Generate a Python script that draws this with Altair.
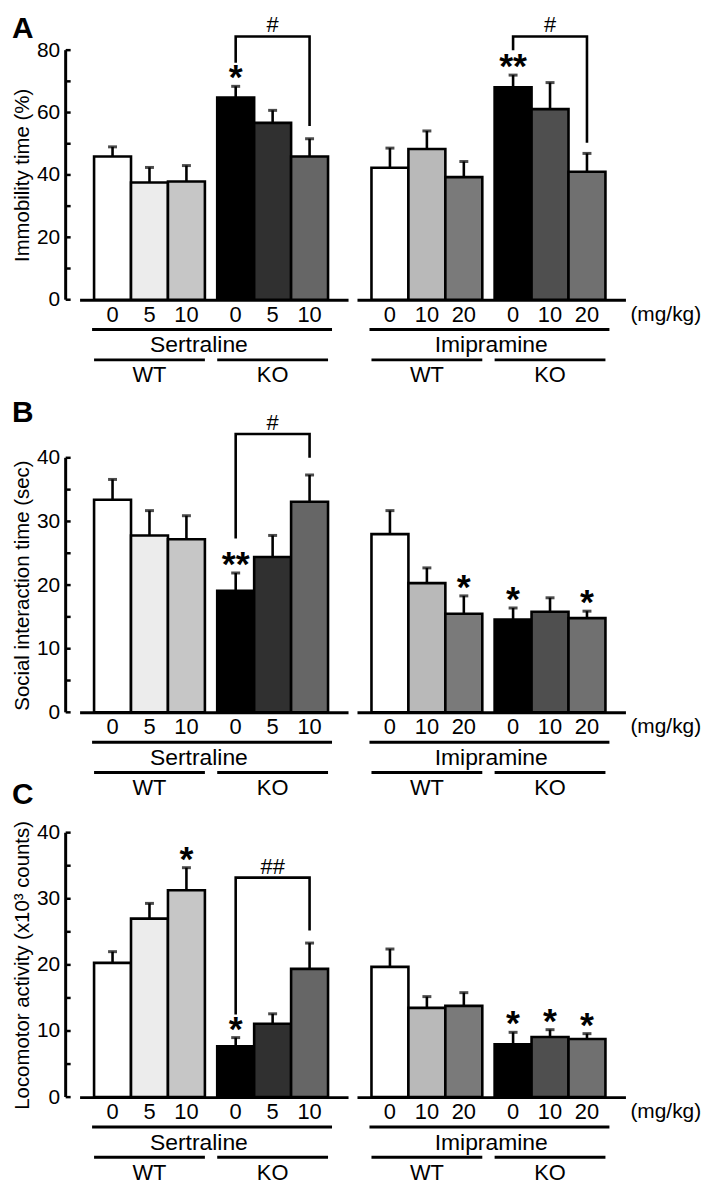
import altair as alt
import pandas as pd

FONT = "Liberation Sans"
W = 270
PI, PO, ALIGN = 0.1, 0.14, 0.42
LW = 2.6

groups = ["WT", "KO"]
sert_doses = ["0", "5", "10"]
imi_doses = ["0", "10", "20"]
unit_label = "(mg/kg)"

# approximations of the hatch / dot textures as grey levels
sert_fill = ["#ffffff", "#ececec", "#c6c6c6", "#000000", "#303030", "#666666"]
imi_fill = ["#ffffff", "#b9b9b9", "#7a7a7a", "#000000", "#4f4f4f", "#707070"]

# ---- Panel A : immobility time (%)
A_title = "Immobility time (%)"
A_sert_mean = [45.9, 37.6, 37.9, 64.8, 56.7, 45.9]
A_sert_sem = [3.1, 4.8, 5.1, 3.6, 4.0, 5.7]
A_sert_star = ["", "", "", "*", "", ""]
A_sert_bracket = ["#", 84.4, 76.0, 55.7]
A_imi_mean = [42.3, 48.3, 39.3, 68.1, 61.1, 41.0]
A_imi_sem = [6.3, 5.8, 5.0, 3.9, 8.5, 5.9]
A_imi_star = ["", "", "", "**", "", ""]
A_imi_bracket = ["#", 84.4, 80.0, 50.3]

# ---- Panel B : social interaction time (sec)
B_title = "Social interaction time (sec)"
B_sert_mean = [33.4, 27.8, 27.2, 19.1, 24.4, 33.1]
B_sert_sem = [3.2, 3.9, 3.7, 2.8, 3.4, 4.2]
B_sert_star = ["", "", "", "**", "", ""]
B_sert_bracket = ["#", 43.75, 27.3, 40.0]
B_imi_mean = [28.0, 20.3, 15.5, 14.6, 15.8, 14.8]
B_imi_sem = [3.7, 2.4, 2.8, 1.8, 2.2, 1.1]
B_imi_star = ["", "", "*", "*", "", "*"]

# ---- Panel C : locomotor activity (x10^3 counts)
C_title = "Locomotor activity (x10³ counts)"
C_sert_mean = [20.3, 27.0, 31.3, 7.7, 11.1, 19.4]
C_sert_sem = [1.7, 2.3, 3.4, 1.3, 1.5, 3.9]
C_sert_star = ["", "", "*", "*", "", ""]
C_sert_bracket = ["##", 33.2, 12.5, 25.2]
C_imi_mean = [19.7, 13.5, 13.8, 8.0, 9.1, 8.8]
C_imi_sem = [2.7, 1.7, 2.0, 1.8, 1.1, 0.8]
C_imi_star = ["", "", "", "*", "*", "*"]


def one(d):
    return alt.Chart(pd.DataFrame(d))


def panel(drug, doses, means, sems, fills, stars, bracket, h, ymax, tick_step,
          label_step, ytitle=None, letter=None, letter_y=0, unit=False,
          drug_dx=0, extra=0):
    H = h + extra
    top_val = ymax * H / h
    df = pd.DataFrame({
        "group": [g for g in groups for _ in doses],
        "dose": list(doses) * 2,
        "mean": means, "sem": sems, "fill": fills, "star": stars,
    })
    df["top"] = df["mean"] + df["sem"]

    x = alt.X("group:N", sort=groups, title=None,
              scale=alt.Scale(domain=groups, paddingInner=PI, paddingOuter=PO,
                              align=ALIGN),
              axis=alt.Axis(labels=False, ticks=False, domainWidth=3,
                            domainColor="black", title=None))
    xo = alt.XOffset("dose:N", sort=list(doses),
                     scale=alt.Scale(domain=list(doses), paddingInner=0,
                                     paddingOuter=0))
    tick_vals = list(range(0, ymax + 1, tick_step))
    if ytitle:
        yaxis = alt.Axis(values=tick_vals,
                         labelExpr=f"datum.value % {label_step} == 0 ? datum.label : ''",
                         title=ytitle, titleY=H - h / 2, offset=14, ticks=False,
                         tickSize=0, domain=False, labelPadding=6,
                         titlePadding=4)
    else:
        yaxis = None
    ys = alt.Scale(domain=[0, top_val], nice=False)

    def Y(f):
        return alt.Y(f, scale=ys, axis=yaxis)

    base = alt.Chart(df)
    layers = []
    layers.append(base.mark_bar(stroke="black", strokeWidth=LW).encode(
        x=x, xOffset=xo, y=Y("mean:Q"), fill=alt.Fill("fill:N", scale=None)))
    if ytitle:
        # axis line (0..ymax only) and inward ticks
        layers.append(one({"a": [0], "b": [ymax]}).mark_rule(
            color="black", strokeWidth=3).encode(
            x=alt.value(-14), y=Y("a:Q"), y2="b:Q"))
        layers.append(one({"v": tick_vals}).mark_rule(
            color="black", strokeWidth=2.5).encode(
            x=alt.value(-14), x2=alt.value(-9), y=Y("v:Q")))
    layers.append(base.mark_rule(color="black", strokeWidth=LW).encode(
        x=x, xOffset=xo, y=Y("mean:Q"), y2="top:Q"))
    layers.append(base.mark_tick(color="black", thickness=3, size=9).encode(
        x=x, xOffset=xo, y=Y("top:Q")))
    layers.append(base.transform_filter("datum.star != ''").mark_text(
        font=FONT, fontSize=36, fontWeight="bold", dy=3, baseline="alphabetic",
        color="black").encode(
        x=x, xOffset=xo, y=Y("top:Q"), text="star:N"))

    if bracket:
        lab, lvl, l_end, r_end = bracket
        bdf = {"group": ["KO"] * 4,
               "dose": [doses[0], doses[0], doses[2], doses[2]],
               "v": [l_end, lvl, lvl, r_end], "o": [0, 1, 2, 3]}
        layers.append(one(bdf).mark_line(color="black", strokeWidth=LW,
                                         strokeJoin="miter").encode(
            x=x, xOffset=xo, y=Y("v:Q"), order="o:Q"))
        hdf = {"group": ["KO"], "dose": [doses[1]], "v": [lvl], "t": [lab]}
        layers.append(one(hdf).mark_text(font=FONT, fontSize=22, dy=-4,
                                         baseline="alphabetic", color="black").encode(
            x=x, xOffset=xo, y=Y("v:Q"), text="t:N"))

    # dose labels below the axis
    layers.append(base.mark_text(font=FONT, fontSize=22, baseline="middle",
                                 color="black").encode(
        x=x, xOffset=xo, y=alt.value(H + 15), text="dose:N"))
    step = W / (2 - PI + 2 * PO)
    left = (W - step * (2 - PI)) * ALIGN
    right = left + step * (2 - PI)
    layers.append(one({"a": [0]}).mark_rule(color="black", strokeWidth=3).encode(
        x=alt.value(left - 2), x2=alt.value(right + 4), y=alt.value(H + 30)))
    layers.append(one({"t": [drug]}).mark_text(font=FONT, fontSize=23,
                                               baseline="middle", color="black").encode(
        x=alt.value(W / 2 + drug_dx), y=alt.value(H + 46), text="t:N"))
    gdf = {"group": groups}
    layers.append(one(gdf).mark_bar(color="black").encode(
        x=x, y=alt.value(H + 59), y2=alt.value(H + 62)))
    layers.append(one(gdf).mark_text(font=FONT, fontSize=22, baseline="middle",
                                     color="black").encode(
        x=x, y=alt.value(H + 76), text="group:N"))
    if unit:
        layers.append(one({"t": [unit_label]}).mark_text(
            font=FONT, fontSize=21, baseline="middle", align="left",
            color="black").encode(x=alt.value(W + 5), y=alt.value(H + 15), text="t:N"))
    if letter:
        layers.append(one({"t": [letter]}).mark_text(
            font=FONT, fontSize=30, fontWeight="bold", baseline="top",
            align="left", color="black").encode(
            x=alt.value(-68), y=alt.value(letter_y + extra), text="t:N"))

    return alt.layer(*layers).properties(width=W, height=H)


panels = [
    panel("Sertraline", sert_doses, A_sert_mean, A_sert_sem, sert_fill, A_sert_star,
          A_sert_bracket, 251, 80, 10, 20, ytitle=A_title, letter="A",
          letter_y=-36, drug_dx=-15),
    panel("Imipramine", imi_doses, A_imi_mean, A_imi_sem, imi_fill, A_imi_star,
          A_imi_bracket, 251, 80, 10, 20, unit=True),
    panel("Sertraline", sert_doses, B_sert_mean, B_sert_sem, sert_fill, B_sert_star,
          B_sert_bracket, 256, 40, 5, 10, ytitle=B_title, letter="B",
          letter_y=-60, drug_dx=-15, extra=38),
    panel("Imipramine", imi_doses, B_imi_mean, B_imi_sem, imi_fill, B_imi_star,
          None, 256, 40, 5, 10, unit=True, extra=38),
    panel("Sertraline", sert_doses, C_sert_mean, C_sert_sem, sert_fill, C_sert_star,
          C_sert_bracket, 266, 40, 5, 10, ytitle=C_title, letter="C",
          letter_y=-53, drug_dx=-15),
    panel("Imipramine", imi_doses, C_imi_mean, C_imi_sem, imi_fill, C_imi_star,
          None, 266, 40, 5, 10, unit=True),
]

chart = alt.concat(
    *panels, columns=2, spacing={"row": 121, "column": 9}, bounds="flush",
).resolve_scale(
    x="independent", y="independent", xOffset="independent",
).properties(
    padding={"left": 4, "top": 3, "right": 0, "bottom": 0},
).configure_view(stroke=None).configure_axis(
    labelFont=FONT, titleFont=FONT, labelColor="black", titleColor="black",
    domainColor="black", tickColor="black", grid=False, labelFontSize=21,
    titleFontSize=20.5, titleFontWeight="normal",
)

chart.save("out.html", embed_options={"renderer": "svg", "actions": False})
